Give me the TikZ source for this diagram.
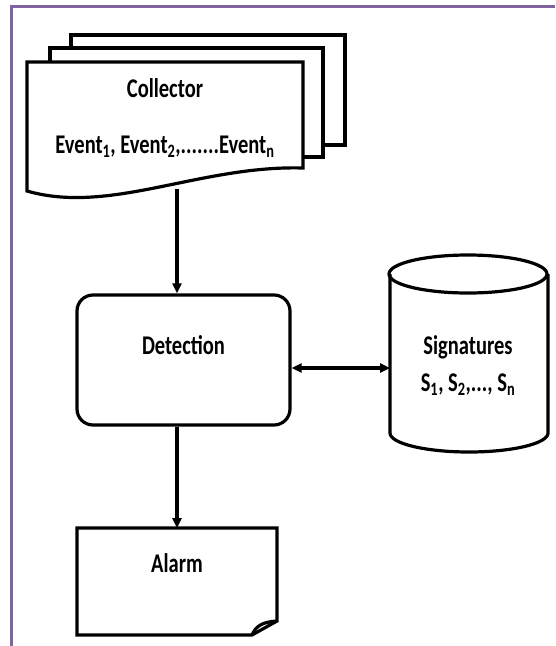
\documentclass[tikz,border=0pt]{standalone}
\usepackage{fontspec}
\setmainfont{Carlito}[FakeStretch=0.76]
\usetikzlibrary{arrows.meta,positioning,calc}
\tikzset{every picture/.style={line width=3.2pt}}
\definecolor{framepurple}{RGB}{128,100,162}
\newcommand{\lowidx}[1]{\textsubscript{#1}}

\begin{document}
\begin{tikzpicture}[x=1pt, y=-1pt, font=\fontsize{27}{32}\selectfont\bfseries,
    flowarrow/.style={-{Triangle[length=10pt,width=9pt]}},
    botharrow/.style={{Triangle[length=10pt,width=9pt]}-{Triangle[length=10pt,width=9pt]}}]
    \useasboundingbox (0,0) rectangle (555,646);
    % 外框
    \draw[framepurple, line width=3.5pt] (11.5,646) -- (11.5,6.5) -- (555,6.5);
    % 多页文档 Collector
    \draw[fill=white] (71,35) rectangle (345,145);
    \draw[fill=white] (50,48) rectangle (323,157);
    \draw[fill=white] (27,191) -- (27,62) -- (303,62) -- (303,168)
        .. controls (200,165) and (110,215) .. cycle;
    \node (coll) at (165,88) {Collector};
    \node (events) at (165,147) {Event\lowidx{1}, Event\lowidx{2},.......Event\lowidx{n}};
    \coordinate (collbot) at (177,189);
    % Detection
    \node (det) [draw, rounded corners=16pt, minimum width=213pt, minimum height=130pt] at (183.5,360) {};
    \node (dettxt) at (183.5,345) {Detection};
    % Signatures 圆柱
    \draw[fill=white] (390,274) -- (390,433) arc[start angle=180, end angle=0, x radius=79, y radius=19]
        -- (548,274);
    \draw (468,274) ellipse[x radius=79, y radius=19];
    \node (sig) at (468,347) {Signatures};
    \node (sigidx) at (468,385) {S\lowidx{1}, S\lowidx{2},..., S\lowidx{n}};
    \coordinate (sigw) at (390,368);
    % Alarm
    \draw (252,635) -- (77,635) -- (77,528) -- (277,528) -- (277,621) -- cycle;
    \draw (252,635) .. controls (256,626) and (262,622) .. (277,621);
    \node (alarm) at (177,563) {Alarm};
    \coordinate (alarmtop) at (177,528);
    % 连线
    \draw[flowarrow] (collbot) -- (collbot |- det.north);
    \draw[botharrow] (sigw -| det.east) -- (sigw);
    \draw[flowarrow] (alarmtop |- det.south) -- (alarmtop);
\end{tikzpicture}
\end{document}
